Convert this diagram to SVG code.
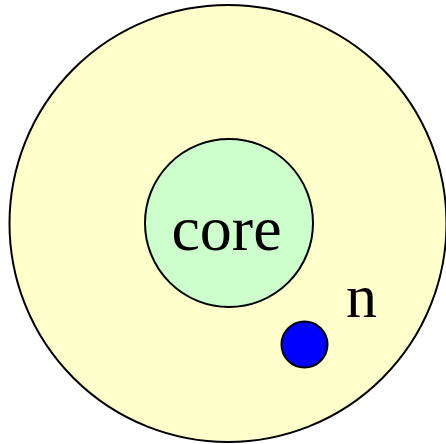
<svg xmlns="http://www.w3.org/2000/svg" width="446" height="444" viewBox="0 0 446 444">
<style>
.shape{stroke:#000;stroke-width:2}
.lbl{font-family:"Liberation Serif","Times New Roman",serif;fill:#000}
</style>
<rect width="446" height="444" fill="#fff"/>
<g id="outer"><circle class="shape" cx="228" cy="223.5" r="218.5" fill="#ffffcc"/></g>
<g id="core"><circle class="shape" cx="229" cy="223" r="84" fill="#ccffcc"/>
<text class="lbl" x="226.5" y="250" font-size="64" text-anchor="middle">core</text></g>
<g id="n"><circle class="shape" cx="304.5" cy="344.5" r="23" fill="#0000ff"/>
<text class="lbl" x="346" y="317" font-size="62">n</text></g>
<g id="connectors"/>
</svg>
